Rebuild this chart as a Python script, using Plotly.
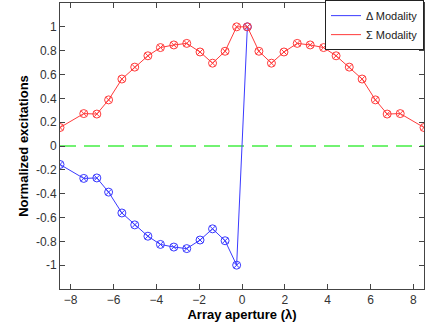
import plotly.graph_objects as go

# element positions (wavelengths) and excitations
x_pos = [-8.5, -7.39, -6.78, -6.23, -5.61, -5.01, -4.395, -3.81, -3.185, -2.58, -1.96, -1.375, -0.79, -0.25,
         0.25, 0.79, 1.375, 1.96, 2.58, 3.185, 3.81, 4.395, 5.01, 5.61, 6.23, 6.78, 7.39, 8.5]
sum_vals = [0.155, 0.272, 0.268, 0.387, 0.562, 0.662, 0.757, 0.826, 0.848, 0.861, 0.789, 0.695, 0.795, 1.0,
            1.0, 0.795, 0.695, 0.789, 0.861, 0.848, 0.826, 0.757, 0.662, 0.562, 0.387, 0.268, 0.272, 0.155]
# Δ modality: visible part (left half plus the jump to the first right element)
delta_x = [-8.5, -7.39, -6.78, -6.23, -5.61, -5.01, -4.395, -3.81, -3.185, -2.58, -1.96, -1.375, -0.79, -0.25, 0.25]
delta_vals = [-0.155, -0.272, -0.268, -0.387, -0.562, -0.662, -0.757, -0.826, -0.848, -0.861, -0.789, -0.695,
              -0.795, -1.0, 1.0]

x_ticks = [-8, -6, -4, -2, 0, 2, 4, 6, 8]
y_ticks = [-1, -0.8, -0.6, -0.4, -0.2, 0, 0.2, 0.4, 0.6, 0.8, 1]
y_tick_text = ["-1", "-0.8", "-0.6", "-0.4", "-0.2", "0", "0.2", "0.4", "0.6", "0.8", "1"]

BLUE = "#3a3aff"
RED = "#ff3a3a"
GREEN = "#44ee44"
FONT = "Liberation Sans, Arial"

fig = go.Figure()
# zero line
fig.add_trace(go.Scatter(x=[-8.5, 8.5], y=[0, 0], mode="lines",
                         line=dict(color=GREEN, width=1.6, dash="16px,8px"),
                         showlegend=False, hoverinfo="skip"))
fig.add_trace(go.Scatter(x=delta_x, y=delta_vals, mode="lines+markers",
                         line=dict(color=BLUE, width=1),
                         marker=dict(symbol="circle-x-open", size=8, color=BLUE, line=dict(width=1)),
                         showlegend=False))
fig.add_trace(go.Scatter(x=x_pos, y=sum_vals, mode="lines+markers",
                         line=dict(color=RED, width=1),
                         marker=dict(symbol="circle-x-open", size=8, color=RED, line=dict(width=1)),
                         showlegend=False))
# legend-only entries (line samples only)
fig.add_trace(go.Scatter(x=[None], y=[None], mode="lines", name="Δ Modality",
                         line=dict(color=BLUE, width=1)))
fig.add_trace(go.Scatter(x=[None], y=[None], mode="lines", name="Σ Modality",
                         line=dict(color=RED, width=1)))

axis_common = dict(showline=True, linecolor="#444444", linewidth=1, mirror="ticks",
                   ticks="inside", ticklen=5, tickcolor="#444444", showgrid=False,
                   zeroline=False, automargin=False,
                   tickfont=dict(family=FONT, size=12, color="#333333"))

fig.update_layout(
    width=425, height=329,
    margin=dict(l=60, r=1, t=3, b=40, autoexpand=False),
    paper_bgcolor="white", plot_bgcolor="white",
    xaxis=dict(range=[-8.5, 8.5], tickvals=x_ticks,
               title=dict(text="<b>Array aperture (λ)</b>", standoff=2,
                          font=dict(family=FONT, size=13, color="black")),
               **axis_common),
    yaxis=dict(range=[-1.2, 1.2], tickvals=y_ticks, ticktext=y_tick_text,
               title=dict(text="<b>Normalized excitations</b>", standoff=4,
                          font=dict(family=FONT, size=13, color="black")),
               **axis_common),
    legend=dict(x=1, y=1.01, xanchor="right", yanchor="top",
                bgcolor="white", bordercolor="#222222", borderwidth=1,
                font=dict(family=FONT, size=11, color="#222222"),
                tracegroupgap=0, itemwidth=30),
    showlegend=True,
)

fig.write_html("out.html", config={"displayModeBar": False},
               post_script="document.body.style.margin='0';")
